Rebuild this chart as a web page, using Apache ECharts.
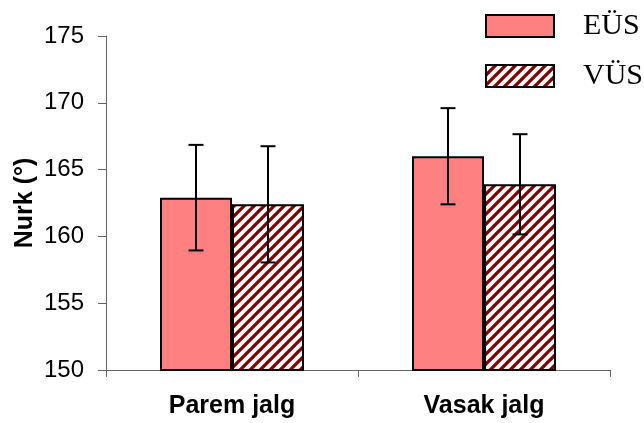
<!DOCTYPE html>
<html>
<head>
<meta charset="utf-8">
<script src="https://cdn.jsdelivr.net/npm/echarts@6/dist/echarts.min.js"></script>
<style>
  html, body { margin: 0; padding: 0; background: #fff; }
  #chart { width: 644px; height: 423px; }
</style>
</head>
<body>
<div id="chart"></div>
<script>
var categories = ['Parem jalg', 'Vasak jalg'];
var seriesNames = ['EÜS', 'VÜS'];
var eusMean = [162.9, 166.0];
var eusSd = [3.95, 3.6];
var vusMean = [162.4, 163.9];
var vusSd = [4.35, 3.75];
var yTicks = { min: 150, max: 175, step: 5 };

var barWidth = 72;

var chartDom = document.getElementById('chart');
var myChart = echarts.init(chartDom);

// diagonal hatch for VÜS
function makeHatch() {
  var c = document.createElement('canvas');
  c.width = 10;
  c.height = 10;
  var ctx = c.getContext('2d');
  ctx.fillStyle = '#fff';
  ctx.fillRect(0, 0, 10, 10);
  ctx.strokeStyle = '#800000';
  ctx.lineWidth = 3.3;
  ctx.beginPath();
  ctx.moveTo(-5, 5); ctx.lineTo(5, -5);
  ctx.moveTo(0, 10); ctx.lineTo(10, 0);
  ctx.moveTo(5, 15); ctx.lineTo(15, 5);
  ctx.stroke();
  return c;
}
var hatch = { image: makeHatch(), repeat: 'repeat' };

function errData(mean, sd) {
  return mean.map(function (m, i) {
    return [i, m - sd[i], m + sd[i]];
  });
}

function errorRender(shift) {
  return function (params, api) {
    var x = api.value(0);
    var lo = api.coord([x, api.value(1)]);
    var hi = api.coord([x, api.value(2)]);
    var cx = lo[0] + shift;
    var cap = 7.5;
    var st = { stroke: '#000', lineWidth: 2 };
    return {
      type: 'group',
      children: [
        { type: 'line', shape: { x1: cx, y1: hi[1], x2: cx, y2: lo[1] }, style: st },
        { type: 'line', shape: { x1: cx - cap, y1: hi[1], x2: cx + cap, y2: hi[1] }, style: st },
        { type: 'line', shape: { x1: cx - cap, y1: lo[1], x2: cx + cap, y2: lo[1] }, style: st }
      ]
    };
  };
}

var option = {
  animation: false,
  grid: { left: 106, right: 34, top: 36, bottom: 53, outerBoundsMode: 'none', containLabel: false },
  legend: {
    data: seriesNames,
    orient: 'vertical',
    left: 485,
    top: 11,
    padding: 0,
    itemWidth: 68,
    itemHeight: 22,
    itemGap: 20,
    icon: 'rect',
    textStyle: {
      fontFamily: 'Liberation Serif',
      fontSize: 30,
      lineHeight: 30,
      color: '#000',
      padding: [0, 0, 0, 24]
    }
  },
  xAxis: {
    type: 'category',
    data: categories,
    axisLine: { lineStyle: { color: '#666', width: 1 } },
    axisTick: { show: true, length: 7, lineStyle: { color: '#666' } },
    axisLabel: {
      margin: 24,
      fontFamily: 'Liberation Sans',
      fontWeight: 'bold',
      fontSize: 25,
      color: '#000'
    }
  },
  yAxis: {
    type: 'value',
    min: yTicks.min,
    max: yTicks.max,
    interval: yTicks.step,
    name: 'Nurk (°)',
    nameLocation: 'middle',
    nameGap: 68,
    nameMoveOverlap: false,
    nameTextStyle: {
      fontFamily: 'Liberation Sans',
      fontWeight: 'bold',
      fontSize: 25,
      color: '#000'
    },
    splitLine: { show: false },
    axisLine: { show: true, lineStyle: { color: '#666', width: 1 } },
    axisTick: { show: true, length: 8, lineStyle: { color: '#666' } },
    axisLabel: {
      margin: 22,
      fontFamily: 'Liberation Sans',
      fontSize: 24,
      color: '#000'
    }
  },
  series: [
    {
      name: seriesNames[0],
      type: 'bar',
      data: eusMean,
      barWidth: barWidth,
      barGap: '0%',
      itemStyle: { color: '#FF8080', borderColor: '#000', borderWidth: 2 }
    },
    {
      name: seriesNames[1],
      type: 'bar',
      data: vusMean,
      barWidth: barWidth,
      barGap: '0%',
      itemStyle: { color: hatch, borderColor: '#000', borderWidth: 2 }
    },
    {
      type: 'custom',
      data: errData(eusMean, eusSd),
      renderItem: errorRender(-barWidth / 2),
      z: 10
    },
    {
      type: 'custom',
      data: errData(vusMean, vusSd),
      renderItem: errorRender(barWidth / 2),
      z: 10
    }
  ]
};

myChart.setOption(option);
</script>
</body>
</html>
